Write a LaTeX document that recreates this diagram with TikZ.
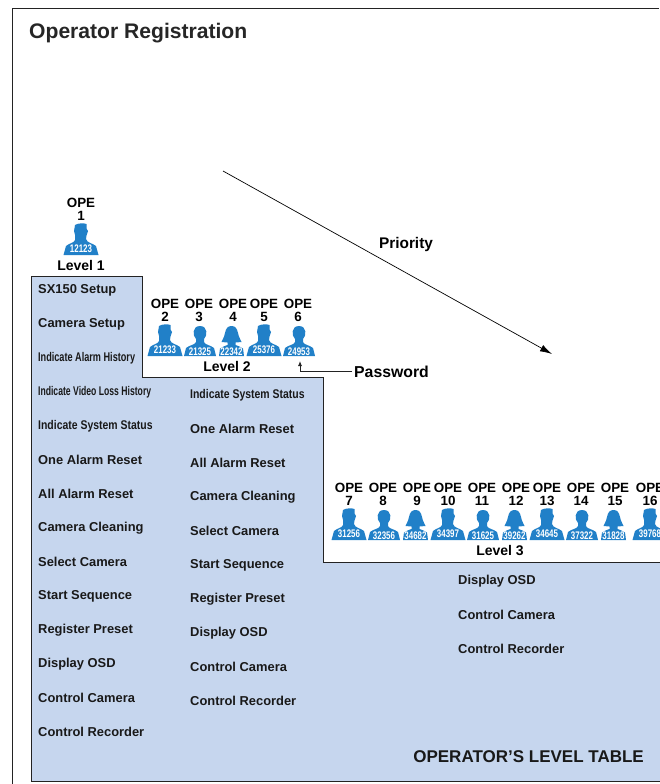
\documentclass[tikz,border=0pt]{standalone}
\usepackage{fontspec}
\usetikzlibrary{arrows.meta}
\setmainfont{Liberation Sans}
\definecolor{panel}{RGB}{198,214,238}
\definecolor{pers}{RGB}{33,128,200}
\definecolor{edge}{RGB}{35,35,35}
\tikzset{
  x=1pt,y=-1pt,
  item/.style={anchor=west,inner sep=0pt,yshift=0.1pt,font=\fontsize{12.9}{14}\selectfont\bfseries,text=black!90},
  tight/.style={anchor=west,inner sep=0pt,yshift=-0.2pt,font=\fontsize{12.6}{14}\selectfont\bfseries,text=black!90},
  lvl/.style={inner sep=0pt,font=\fontsize{14}{15}\selectfont\bfseries},
  big/.style={inner sep=0pt,font=\fontsize{15.4}{17}\selectfont\bfseries},
  ope/.style={inner sep=0pt,align=center,font=\fontsize{13.4}{12.8}\selectfont\bfseries},
  pid/.style={inner sep=0pt,text=white,font=\fontsize{11}{12}\selectfont\bfseries,xscale=0.72},
}
% figures, centred on x=0, with base at y=0
\newcommand{\manA}{\fill[pers] (-17.5,0) -- (-15,-9) .. controls (-11.5,-12) and (-7,-12) .. (-6,-15) -- (-6,-20) -- (-7,-24) -- (-6,-30) .. controls (-3,-32) and (3,-32) .. (5.5,-31) -- (5.5,-26.5) -- (7,-24) -- (5.5,-19.5) -- (5,-16) .. controls (6,-12) and (11.5,-12) .. (15,-9) -- (17.5,0) -- cycle;}
\newcommand{\manB}{\fill[pers] (-16,0) -- (-14,-8) .. controls (-10.5,-11) and (-5,-11) .. (-4,-14) -- (-4,-17) .. controls (-7.5,-20) and (-8,-30) .. (0,-30) .. controls (8,-30) and (7.5,-20) .. (4,-17) -- (4,-14) .. controls (5,-11) and (10.5,-11) .. (14,-8) -- (16,0) -- cycle;}
\newcommand{\womanC}{\fill[pers] (-12.5,0) -- (-11.5,-7.5) .. controls (-9.5,-9.5) and (-6,-10) .. (-4,-11) -- (-4,-13.5) -- (-10,-14) .. controls (-9,-17) and (-7.5,-18) .. (-6.5,-23) .. controls (-5.5,-28) and (-3.5,-30) .. (0,-30) .. controls (3.5,-30) and (5.5,-28) .. (6.5,-23) .. controls (7.5,-18) and (9,-17) .. (10,-14) -- (4,-13.5) -- (4,-11) .. controls (6,-10) and (9.5,-9.5) .. (11.5,-7.5) -- (12.5,0) -- cycle;}
\newcommand{\person}[7]{% label x, name, number, shape, base y, figure dx, id rise
  \begin{scope}[shift={(#1+#6,#5)}]#4\end{scope}
  \node[ope] (o#2) at (#1,#5-46) {OPE\\#2};
  \node[pid] (p#2) at (#1+#6,#5-#7) {#3};
}
\newcommand{\persA}[4]{\person{#1}{#2}{#3}{\manA}{#4}{0}{6}}
\newcommand{\persB}[4]{\person{#1}{#2}{#3}{\manB}{#4}{1}{4.7}}
\newcommand{\persC}[4]{\person{#1}{#2}{#3}{\womanC}{#4}{-1.5}{4.7}}
\begin{document}
\begin{tikzpicture}
\useasboundingbox (0,0) rectangle (659,784);
\fill[white] (0,0) rectangle (659,784);
\draw[edge,line width=0.8pt] (12.5,784) -- (12.5,8.5) -- (659,8.5);
\node[anchor=west,inner sep=0pt,font=\fontsize{21.1}{23}\selectfont\bfseries,text=black!85] (title) at (29,33) {Operator Registration};
\fill[panel,draw=edge,line width=0.9pt] (31,276.5) -- (142,276.5) -- (142,377.5) -- (323,377.5) -- (323,562.5) -- (670,562.5) -- (670,781.5) -- (31,781.5) -- cycle;
% arrow
\coordinate (pa) at (223,171);
\coordinate (pb) at (552,354);
\draw[line width=0.7pt,-{Latex[length=12pt,width=7pt]}] (pa) -- (pb);
\node[big] (prio) at (406,245) {Priority};
% people
\persA{81}{1}{12123}{255}
\node[lvl] (l1) at (81,265.5) {Level 1};
\persA{165}{2}{21233}{356}
\persB{199}{3}{21325}{356}
\persC{233}{4}{22342}{356}
\persA{264}{5}{25376}{356}
\persB{298}{6}{24953}{356}
\node[lvl] (l2) at (227,366.5) {Level 2};
\persA{349}{7}{31256}{540}
\persB{383}{8}{32356}{540}
\persC{417}{9}{34682}{540}
\persA{448}{10}{34397}{540}
\persB{482}{11}{31625}{540}
\persC{516}{12}{39262}{540}
\persA{547}{13}{34645}{540}
\persB{581}{14}{37322}{540}
\persC{615}{15}{31828}{540}
\persA{650}{16}{39768}{540}
\node[lvl] (l3) at (500,550.5) {Level 3};
% password
\node[big,anchor=west,font=\fontsize{15.8}{17}\selectfont\bfseries] (pw) at (354,371.5) {Password};
\coordinate (pk) at (300,371);
\coordinate (pt) at (300,361);
\coordinate (ps) at (352,371);
\draw[edge,line width=0.8pt,-{Latex[length=5pt,width=4pt]}] (ps) -- (pk) -- (pt);
% left column
\foreach \t/\y in {SX150 Setup/290,Camera Setup/324,One Alarm Reset/460,All Alarm Reset/494,Camera Cleaning/528,Select Camera/562,Start Sequence/596,Register Preset/630,Display OSD/664,Control Camera/698,Control Recorder/732}
  \node[item] at (38,\y) {\t};
\node[tight,xscale=0.725] at (38,358) {Indicate Alarm History};
\node[tight,xscale=0.685] at (38,392) {Indicate Video Loss History};
\node[tight,xscale=0.83] at (38,426) {Indicate System Status};
% middle column
\node[tight,xscale=0.83] at (190,395) {Indicate System Status};
\foreach \t/\y in {One Alarm Reset/429,All Alarm Reset/463,Camera Cleaning/497,Select Camera/531,Start Sequence/565,Register Preset/599,Display OSD/633,Control Camera/667,Control Recorder/701}
  \node[item] at (190,\y) {\t};
% right column
\foreach \t/\y in {Display OSD/581,Control Camera/615,Control Recorder/649}
  \node[item] at (458,\y) {\t};
\node[anchor=east,inner sep=0pt,font=\fontsize{17}{19}\selectfont\bfseries,text=black!90] (tbl) at (644,757) {OPERATOR’S LEVEL TABLE};
\end{tikzpicture}
\end{document}
